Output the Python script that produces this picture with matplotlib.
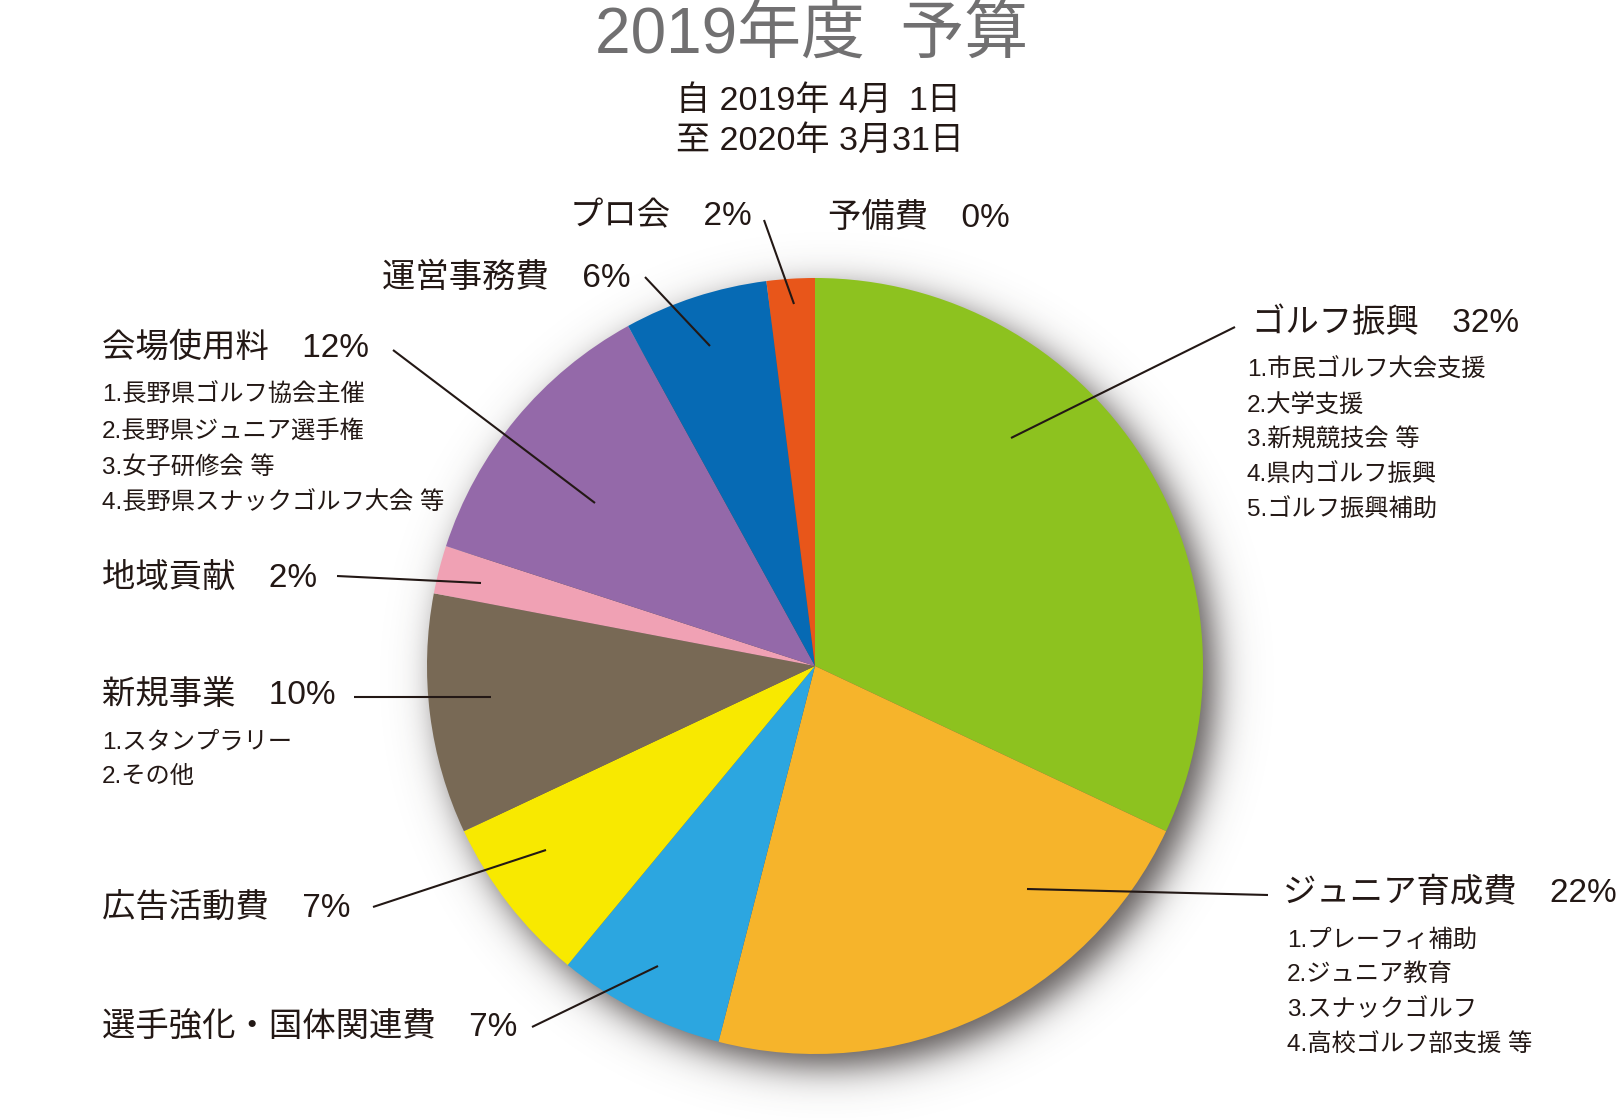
import numpy as np
import matplotlib
matplotlib.use("Agg")
import matplotlib.pyplot as plt

plt.rcParams['font.family'] = ['Liberation Sans', 'Noto Sans CJK JP', 'DejaVu Sans']

# ---------------- data ----------------
categories = ['ゴルフ振興', 'ジュニア育成費', '選手強化・国体関連費', '広告活動費', '新規事業',
              '地域貢献', '会場使用料', '運営事務費', 'プロ会', '予備費']
percents = [32, 22, 7, 7, 10, 2, 12, 6, 2, 0]
colors = ['#8DC21F', '#F6B42B', '#2CA6E0', '#F8E900', '#786955',
          '#F0A1B4', '#9469A9', '#066AB4', '#E8561A', '#FFFFFF']
details = {
    'ゴルフ振興': ['1.市民ゴルフ大会支援', '2.大学支援', '3.新規競技会 等', '4.県内ゴルフ振興', '5.ゴルフ振興補助'],
    'ジュニア育成費': ['1.プレーフィ補助', '2.ジュニア教育', '3.スナックゴルフ', '4.高校ゴルフ部支援 等'],
    '新規事業': ['1.スタンプラリー', '2.その他'],
    '会場使用料': ['1.長野県ゴルフ協会主催', '2.長野県ジュニア選手権', '3.女子研修会 等', '4.長野県スナックゴルフ大会 等'],
}
title = '2019年度  予算'
period_from = ('自 2019年 4月', '1日')
period_to = '至 2020年 3月31日'

# ---------------- layout (pixels, top-left origin) ----------------
W, H = 1624, 1120
CX, CY, R = 815, 666, 388
TXT = '#231815'

label_pos = {  # label left x, center y
    'ゴルフ振興': (1252, 323),
    'ジュニア育成費': (1283, 893),
    '選手強化・国体関連費': (102, 1028),
    '広告活動費': (102, 908),
    '新規事業': (102, 695),
    '地域貢献': (102, 578),
    '会場使用料': (102, 348),
    '運営事務費': (382, 278),
    'プロ会': (570, 217),
    '予備費': (828, 218),
}
detail_pos = {  # x, first y, step
    'ゴルフ振興': (1247, 370, 35),
    'ジュニア育成費': (1287, 940, 35),
    '新規事業': (102, 742, 35),
    '会場使用料': (102, 395, 36),
}
leaders = {  # (outer x, y) -> (inner x, y)
    'ゴルフ振興': ((1235, 327), (1011, 438)),
    'ジュニア育成費': ((1268, 895), (1027, 889)),
    '選手強化・国体関連費': ((532, 1027), (658, 966)),
    '広告活動費': ((373, 907), (546, 850)),
    '新規事業': ((354, 697), (491, 697)),
    '地域貢献': ((337, 576), (481, 583)),
    '会場使用料': ((393, 350), (595, 503)),
    '運営事務費': ((645, 277), (710, 346)),
    'プロ会': ((764, 220), (794, 304)),
}

def Y(y):
    return H - y

fig = plt.figure(figsize=(W / 100, H / 100), dpi=100)
ax = fig.add_axes([0, 0, 1, 1])

# soft drop shadow
yy, xx = np.mgrid[0:H, 0:W] + 0.5
d = np.hypot(xx - (CX + 12), yy - (CY + 13))
alpha = 0.85 / (1 + np.exp((d - R) / 11.0))
img = np.zeros((H, W, 4))
img[..., 0] = 0x3a / 255
img[..., 1] = 0x33 / 255
img[..., 2] = 0x32 / 255
img[..., 3] = alpha
ax.imshow(img, extent=(0, W, 0, H), origin='upper', zorder=0, interpolation='bilinear')

ax.pie(percents, colors=colors, startangle=90, counterclock=False,
       center=(CX, Y(CY)), radius=R, wedgeprops=dict(linewidth=0), normalize=True)

# leader lines
for name, ((x0, y0), (x1, y1)) in leaders.items():
    ax.plot([x0, x1], [Y(y0), Y(y1)], color=TXT, lw=1.5, zorder=5, solid_capstyle='butt')

# labels
for name, p in zip(categories, percents):
    x, y = label_pos[name]
    ax.text(x, Y(y), f'{name}\u3000{p}%', fontsize=24, color=TXT, ha='left', va='center')
    if name in details:
        dx, dy0, step = detail_pos[name]
        for i, line in enumerate(details[name]):
            ax.text(dx, Y(dy0 + i * step), line, fontsize=17.5, color=TXT, ha='left', va='center')

# titles
ax.text(812, Y(36), title, fontsize=46, color='#717071', ha='center', va='center')
ax.text(676, Y(101), period_from[0], fontsize=24.5, color=TXT, ha='left', va='center')
ax.text(961, Y(101), period_from[1], fontsize=24.5, color=TXT, ha='right', va='center')
ax.text(676, Y(141), period_to, fontsize=24.5, color=TXT, ha='left', va='center')

ax.set_xlim(0, W)
ax.set_ylim(0, H)
ax.set_aspect('auto')
ax.axis('off')
fig.savefig('out.png', dpi=100, facecolor='white')
